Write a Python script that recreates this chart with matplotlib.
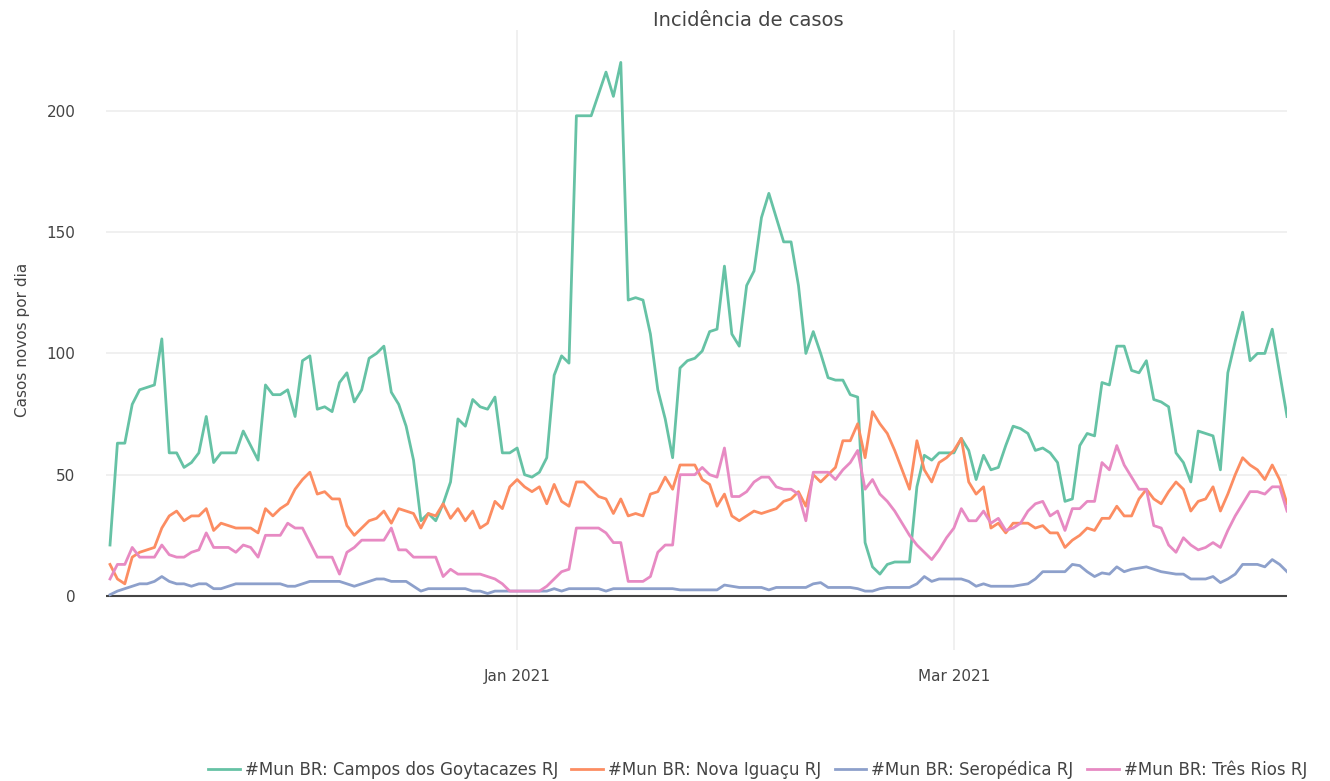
import matplotlib.pyplot as plt
import matplotlib.dates as mdates
import pandas as pd

plt.rcParams['font.family'] = ['DejaVu Sans']

datas = pd.date_range('2020-11-07', periods=160, freq='D')

campos = [21, 63, 63, 79, 85, 86, 87, 106, 59, 59,
          53, 55, 59, 74, 55, 59, 59, 59, 68, 62,
          56, 87, 83, 83, 85, 74, 97, 99, 77, 78,
          76, 88, 92, 80, 85, 98, 100, 103, 84, 79,
          70, 56, 31, 34, 31, 38, 47, 73, 70, 81,
          78, 77, 82, 59, 59, 61, 50, 49, 51, 57,
          91, 99, 96, 198, 198, 198, 207, 216, 206, 220,
          122, 123, 122, 108, 85, 73, 57, 94, 97, 98,
          101, 109, 110, 136, 108, 103, 128, 134, 156, 166,
          156, 146, 146, 128, 100, 109, 100, 90, 89, 89,
          83, 82, 22, 12, 9, 13, 14, 14, 14, 45,
          58, 56, 59, 59, 59, 65, 60, 48, 58, 52,
          53, 62, 70, 69, 67, 60, 61, 59, 55, 39,
          40, 62, 67, 66, 88, 87, 103, 103, 93, 92,
          97, 81, 80, 78, 59, 55, 47, 68, 67, 66,
          52, 92, 105, 117, 97, 100, 100, 110, 92, 74]

nova_iguacu = [13, 7, 5, 16, 18, 19, 20, 28, 33, 35,
               31, 33, 33, 36, 27, 30, 29, 28, 28, 28,
               26, 36, 33, 36, 38, 44, 48, 51, 42, 43,
               40, 40, 29, 25, 28, 31, 32, 35, 30, 36,
               35, 34, 28, 34, 33, 38, 32, 36, 31, 35,
               28, 30, 39, 36, 45, 48, 45, 43, 45, 38,
               46, 39, 37, 47, 47, 44, 41, 40, 34, 40,
               33, 34, 33, 42, 43, 49, 44, 54, 54, 54,
               48, 46, 37, 42, 33, 31, 33, 35, 34, 35,
               36, 39, 40, 43, 37, 50, 47, 50, 53, 64,
               64, 71, 57, 76, 71, 67, 60, 52, 44, 64,
               52, 47, 55, 57, 60, 65, 47, 42, 45, 28,
               30, 26, 30, 30, 30, 28, 29, 26, 26, 20,
               23, 25, 28, 27, 32, 32, 37, 33, 33, 40,
               44, 40, 38, 43, 47, 44, 35, 39, 40, 45,
               35, 42, 50, 57, 54, 52, 48, 54, 48, 38]

seropedica = [0.5, 2, 3, 4, 5, 5, 6, 8, 6, 5,
              5, 4, 5, 5, 3, 3, 4, 5, 5, 5,
              5, 5, 5, 5, 4, 4, 5, 6, 6, 6,
              6, 6, 5, 4, 5, 6, 7, 7, 6, 6,
              6, 4, 2, 3, 3, 3, 3, 3, 3, 2,
              2, 1, 2, 2, 2, 2, 2, 2, 2, 2,
              3, 2, 3, 3, 3, 3, 3, 2, 3, 3,
              3, 3, 3, 3, 3, 3, 3, 2.5, 2.5, 2.5,
              2.5, 2.5, 2.5, 4.5, 4, 3.5, 3.5, 3.5, 3.5, 2.5,
              3.5, 3.5, 3.5, 3.5, 3.5, 5, 5.5, 3.5, 3.5, 3.5,
              3.5, 3, 2, 2, 3, 3.5, 3.5, 3.5, 3.5, 5,
              8, 6, 7, 7, 7, 7, 6, 4, 5, 4,
              4, 4, 4, 4.5, 5, 7, 10, 10, 10, 10,
              13, 12.5, 10, 8, 9.5, 9, 12, 10, 11, 11.5,
              12, 11, 10, 9.5, 9, 9, 7, 7, 7, 8,
              5.5, 7, 9, 13, 13, 13, 12, 15, 13, 10]

tres_rios = [7, 13, 13, 20, 16, 16, 16, 21, 17, 16,
             16, 18, 19, 26, 20, 20, 20, 18, 21, 20,
             16, 25, 25, 25, 30, 28, 28, 22, 16, 16,
             16, 9, 18, 20, 23, 23, 23, 23, 28, 19,
             19, 16, 16, 16, 16, 8, 11, 9, 9, 9,
             9, 8, 7, 5, 2, 2, 2, 2, 2, 4,
             7, 10, 11, 28, 28, 28, 28, 26, 22, 22,
             6, 6, 6, 8, 18, 21, 21, 50, 50, 50,
             53, 50, 49, 61, 41, 41, 43, 47, 49, 49,
             45, 44, 44, 42, 31, 51, 51, 51, 48, 52,
             55, 60, 44, 48, 42, 39, 35, 30, 25, 21,
             18, 15, 19, 24, 28, 36, 31, 31, 35, 30,
             32, 27, 28, 30, 35, 38, 39, 33, 35, 27,
             36, 36, 39, 39, 55, 52, 62, 54, 49, 44,
             44, 29, 28, 21, 18, 24, 21, 19, 20, 22,
             20, 27, 33, 38, 43, 43, 42, 45, 45, 35]

series = [
    ('#Mun BR: Campos dos Goytacazes RJ', campos, '#66c2a5'),
    ('#Mun BR: Nova Iguaçu RJ', nova_iguacu, '#fc8d62'),
    ('#Mun BR: Seropédica RJ', seropedica, '#8da0cb'),
    ('#Mun BR: Três Rios RJ', tres_rios, '#e78ac3'),
]

fig = plt.figure(figsize=(13.3, 7.81), dpi=100)
ax = fig.add_axes([0.0797, 0.1677, 0.888, 0.794])

for nome, valores, cor in series:
    ax.plot(datas, valores, color=cor, linewidth=2.0, label=nome, zorder=3)

ax.axhline(0, color='#444444', linewidth=1.5, zorder=2)

ax.set_xlim(datas[0] - pd.Timedelta(hours=13), datas[-1])
ax.set_ylim(-22.3, 233.4)
ax.set_yticks([0, 50, 100, 150, 200])
ax.xaxis.set_major_locator(mdates.MonthLocator(bymonth=[1, 3]))
ax.xaxis.set_major_formatter(mdates.DateFormatter('%b %Y'))

ax.grid(True, color='#eeeeee', linewidth=1.2, zorder=0)
for s in ax.spines.values():
    s.set_visible(False)
ax.tick_params(length=0, labelsize=11, labelcolor='#444444')
ax.tick_params(axis='y', pad=22)
ax.tick_params(axis='x', pad=14)

fig.text(0.5624, 0.974, 'Incidência de casos', fontsize=14, color='#444444',
         ha='center', va='center')
ax.set_ylabel('Casos novos por dia', fontsize=11, color='#444444', labelpad=12)

fig.legend(loc='center left', bbox_to_anchor=(0.1564, 0.014), ncol=4, frameon=False,
           fontsize=12, handlelength=1.9, columnspacing=0.8, handletextpad=0.3,
           borderpad=0, borderaxespad=0, labelcolor='#444444')

fig.savefig('out.png', dpi=100)
